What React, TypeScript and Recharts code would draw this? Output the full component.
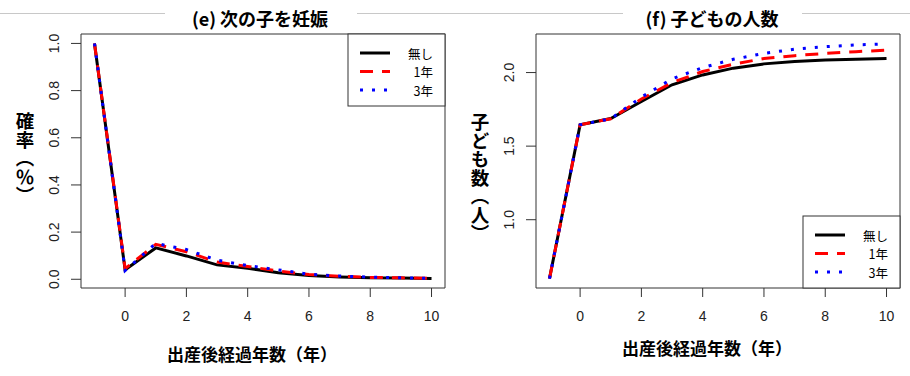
import React from 'react';
import { LineChart, Line, XAxis, YAxis, ReferenceArea } from 'recharts';

// ---- data ----
const years = [-1, 0, 1, 2, 3, 4, 5, 6, 7, 8, 9, 10];

const pregNone = [1.0, 0.04, 0.133, 0.099, 0.061, 0.047, 0.028, 0.016, 0.01, 0.006, 0.005, 0.003];
const preg1 = [1.0, 0.045, 0.148, 0.117, 0.073, 0.054, 0.035, 0.02, 0.013, 0.008, 0.006, 0.004];
const preg3 = [1.0, 0.037, 0.152, 0.126, 0.081, 0.058, 0.04, 0.021, 0.014, 0.009, 0.006, 0.004];

const kidsNone = [0.6, 1.645, 1.688, 1.803, 1.917, 1.984, 2.03, 2.059, 2.075, 2.086, 2.09, 2.095];
const kids1 = [0.6, 1.645, 1.686, 1.82, 1.932, 2.007, 2.057, 2.095, 2.115, 2.13, 2.142, 2.152];
const kids3 = [0.6, 1.645, 1.686, 1.833, 1.957, 2.034, 2.09, 2.13, 2.159, 2.176, 2.188, 2.195];

const seriesNames = ['無し', '1年', '3年'];
const xTicks = [0, 2, 4, 6, 8, 10];
const pregTicks = [0, 0.2, 0.4, 0.6, 0.8, 1.0];
const kidsTicks = [1.0, 1.5, 2.0];

const titles = ['(e) 次の子を妊娠', '(f) 子どもの人数'];
const xLabel = '出産後経過年数（年）';
const yLabelPreg = '確率（％）';
const yLabelKids = '子ども数（人）';

// ---- styles ----
const seriesStyles = [
  { stroke: '#000000', dash: undefined as string | undefined, width: 3 },
  { stroke: '#ff0000', dash: '13 9', width: 3 },
  { stroke: '#0000ff', dash: '3 9', width: 3 },
];
const LATIN = '"Liberation Sans", Arial, sans-serif';
const CJK = '"Noto Sans CJK JP", "Noto Sans", sans-serif';
const AXIS = '#333333';

const makeRows = (a: number[], b: number[], c: number[]) =>
  years.map((x, i) => ({ x, s0: a[i], s1: b[i], s2: c[i] }));

const pregData = makeRows(pregNone, preg1, preg3);
const kidsData = makeRows(kidsNone, kids1, kids3);

const xDomain: [number, number] = [-1.44, 10.44];

const XTick = (props: any) => {
  const { x, y, payload } = props;
  return (
    <text x={x} y={y} dy="0.71em" textAnchor="middle" fontSize={14} fontFamily={LATIN} fill="#222">
      {payload.value}
    </text>
  );
};

const YTick = (props: any) => {
  const { x, y, payload } = props;
  return (
    <text
      x={x}
      y={y}
      transform={`rotate(-90 ${x} ${y})`}
      textAnchor="middle"
      fontSize={14}
      fontFamily={LATIN}
      fill="#222"
    >
      {Number(payload.value).toFixed(1)}
    </text>
  );
};

type PanelProps = {
  data: any[];
  yDomain: [number, number];
  yTicks: number[];
};

const Panel = ({ data, yDomain, yTicks }: PanelProps) => (
  <LineChart width={455} height={376} data={data} margin={{ top: 34, right: 10, bottom: 58, left: 41 }}>
    <XAxis
      dataKey="x"
      type="number"
      domain={xDomain}
      ticks={xTicks}
      allowDataOverflow
      axisLine={false}
      tickSize={9}
      tickMargin={14}
      height={30}
      tickLine={{ stroke: AXIS }}
      tick={<XTick />}
      interval={0}
    />
    <YAxis
      type="number"
      domain={yDomain}
      ticks={yTicks}
      allowDataOverflow
      axisLine={false}
      tickSize={10}
      tickMargin={12}
      width={40}
      tickLine={{ stroke: AXIS }}
      tick={<YTick />}
      interval={0}
    />
    <ReferenceArea
      x1={xDomain[0]}
      x2={xDomain[1]}
      y1={yDomain[0]}
      y2={yDomain[1]}
      fill="none"
      stroke={AXIS}
      strokeWidth={1}
      ifOverflow="visible"
    />
    {seriesStyles.map((s, i) => (
      <Line
        key={i}
        type="linear"
        dataKey={`s${i}`}
        name={seriesNames[i]}
        stroke={s.stroke}
        strokeWidth={s.width}
        strokeDasharray={s.dash}
        dot={false}
        activeDot={false}
        isAnimationActive={false}
      />
    ))}
  </LineChart>
);

const LegendBox = ({ x, y }: { x: number; y: number }) => (
  <g>
    <rect x={x} y={y} width={97} height={72} fill="#fff" stroke={AXIS} strokeWidth={1} />
    {seriesStyles.map((s, i) => (
      <g key={i}>
        <line
          x1={x + 12}
          x2={x + 42}
          y1={y + 19 + i * 18.5}
          y2={y + 19 + i * 18.5}
          stroke={s.stroke}
          strokeWidth={s.width}
          strokeDasharray={s.dash}
        />
        <text
          x={x + 85}
          y={y + 19 + i * 18.5}
          dominantBaseline="central"
          textAnchor="end"
          fontSize={12.5}
          fontFamily={CJK}
          fill="#000"
        >
          {seriesNames[i]}
        </text>
      </g>
    ))}
  </g>
);

const VerticalLabel = ({ x, y, text }: { x: number; y: number; text: string }) => (
  <text
    x={x}
    y={y}
    style={{ writingMode: 'vertical-rl' } as any}
    textAnchor="start"
    fontSize={18.5}
    fontWeight={700}
    fontFamily={CJK}
    fill="#000"
  >
    {text}
  </text>
);

export default function App() {
  return (
    <div style={{ position: 'absolute', left: 0, top: 0, width: 910, height: 376, background: '#fff' }}>
      <div style={{ position: 'absolute', left: 0, top: 0 }}>
        <Panel data={pregData} yDomain={[-0.037, 1.04]} yTicks={pregTicks} />
      </div>
      <div style={{ position: 'absolute', left: 455, top: 0 }}>
        <Panel data={kidsData} yDomain={[0.536, 2.262]} yTicks={kidsTicks} />
      </div>
      <svg
        width={910}
        height={376}
        style={{ position: 'absolute', left: 0, top: 0, pointerEvents: 'none' }}
      >
        <g stroke="#c8c8c8" strokeWidth={1}>
          <line x1={0} x2={165} y1={13.5} y2={13.5} />
          <line x1={357} x2={623} y1={13.5} y2={13.5} />
          <line x1={802} x2={910} y1={13.5} y2={13.5} />
        </g>
        <text x={260} y={17.5} textAnchor="middle" dominantBaseline="central" fontSize={18} fontWeight={700} fontFamily={CJK} fill="#000">
          {titles[0]}
        </text>
        <text x={712} y={17.5} textAnchor="middle" dominantBaseline="central" fontSize={18} fontWeight={700} fontFamily={CJK} fill="#000">
          {titles[1]}
        </text>
        <text x={252} y={353} textAnchor="middle" dominantBaseline="central" fontSize={17} fontWeight={700} fontFamily={CJK} fill="#000">
          {xLabel}
        </text>
        <text x={707} y={347} textAnchor="middle" dominantBaseline="central" fontSize={17} fontWeight={700} fontFamily={CJK} fill="#000">
          {xLabel}
        </text>
        <VerticalLabel x={25} y={112} text={yLabelPreg} />
        <VerticalLabel x={480} y={113} text={yLabelKids} />
        <LegendBox x={348} y={34} />
        <LegendBox x={803} y={216} />
      </svg>
    </div>
  );
}
